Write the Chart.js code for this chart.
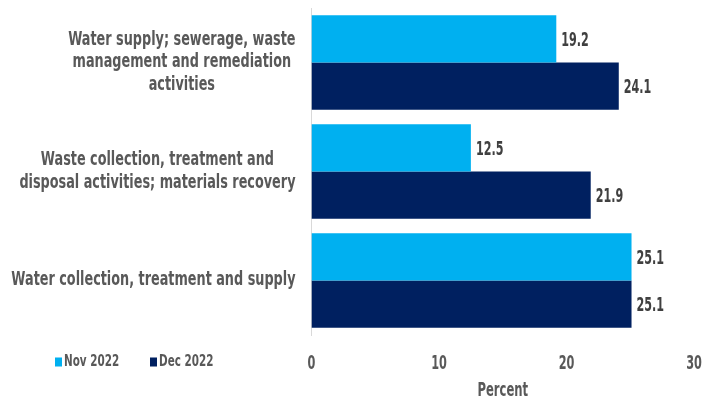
<!DOCTYPE html>
<html>
<head>
<meta charset="utf-8">
<script src="https://cdn.jsdelivr.net/npm/chart.js@4.4.1/dist/chart.umd.min.js"></script>
<style>
  html, body { margin: 0; padding: 0; background: #fff; }
  #wrap { width: 704px; height: 401px; position: relative; }
</style>
</head>
<body>
<div id="wrap"><canvas id="chart"></canvas></div>
<script>
const categories = [
    ['Water supply; sewerage, waste', 'management and remediation', 'activities'],
    ['Waste collection, treatment and', 'disposal activities; materials recovery'],
    ['Water collection, treatment and supply']
];
const seriesNames = ['Nov 2022', 'Dec 2022'];
const nov2022 = [19.2, 12.5, 25.1];
const dec2022 = [24.1, 21.9, 25.1];
const xTicks = [0, 10, 20, 30];
const xTitle = 'Percent';

const FONT = '"DejaVu Sans Condensed", "DejaVu Sans", sans-serif';
const colors = ['#00B0F0', '#002060'];

// condensed text: the original face is narrow, so squeeze horizontally
function drawText(ctx, text, x, y, size, color, align, sx) {
    ctx.save();
    ctx.font = 'bold ' + size + 'px ' + FONT;
    ctx.fillStyle = color;
    ctx.textAlign = align;
    ctx.textBaseline = 'middle';
    ctx.translate(x, y);
    ctx.scale(sx, 1);
    ctx.fillText(text, 0, 0);
    ctx.restore();
}

function textWidth(ctx, text, size, sx) {
    ctx.save();
    ctx.font = 'bold ' + size + 'px ' + FONT;
    const w = ctx.measureText(text).width * sx;
    ctx.restore();
    return w;
}

const categoryLabels = {
    id: 'categoryLabels',
    afterDraw(chart) {
        const ctx = chart.ctx;
        const yScale = chart.scales.y;
        const right = chart.chartArea.left - 16;
        const size = 19, sx = 0.75, lineH = 22.5;
        categories.forEach((lines, i) => {
            const cy = yScale.getPixelForValue(i);
            const w = Math.max(...lines.map(l => textWidth(ctx, l, size, sx)));
            const cx = right - w / 2;
            const y0 = cy - (lines.length - 1) * lineH / 2;
            lines.forEach((l, j) => drawText(ctx, l, cx, y0 + j * lineH, size, '#595959', 'center', sx));
        });
    }
};

const valueLabels = {
    id: 'valueLabels',
    afterDatasetsDraw(chart) {
        const ctx = chart.ctx;
        chart.data.datasets.forEach((ds, di) => {
            chart.getDatasetMeta(di).data.forEach((bar, i) => {
                drawText(ctx, ds.data[i].toFixed(1), bar.x + 5, bar.y + 1.5, 20, '#404040', 'left', 0.62);
            });
        });
    }
};

const xAxisText = {
    id: 'xAxisText',
    afterDraw(chart) {
        const ctx = chart.ctx;
        const xScale = chart.scales.x;
        xTicks.forEach(v => {
            drawText(ctx, String(v), xScale.getPixelForValue(v), 364.5, 19, '#595959', 'center', 0.66);
        });
        const mid = (chart.chartArea.left + chart.chartArea.right) / 2;
        drawText(ctx, xTitle, mid, 391, 19, '#595959', 'center', 0.68);
    }
};

const bottomLegend = {
    id: 'bottomLegend',
    afterDraw(chart) {
        const ctx = chart.ctx;
        const y = 362;
        const xs = [55, 150];
        seriesNames.forEach((name, i) => {
            ctx.fillStyle = colors[i];
            ctx.fillRect(xs[i], y - 4.5, 7, 9);
            drawText(ctx, name, xs[i] + 9, y, 16.5, '#595959', 'left', 0.70);
        });
    }
};

new Chart(document.getElementById('chart').getContext('2d'), {
    type: 'bar',
    data: {
        labels: categories.map(c => c.join(' ')),
        datasets: [
            { label: seriesNames[0], data: nov2022, backgroundColor: colors[0] },
            { label: seriesNames[1], data: dec2022, backgroundColor: colors[1] }
        ]
    },
    options: {
        indexAxis: 'y',
        responsive: true,
        maintainAspectRatio: false,
        animation: false,
        layout: { padding: { top: 8, right: 10, bottom: 0, left: 0 } },
        plugins: {
            legend: { display: false },
            tooltip: { enabled: false }
        },
        datasets: {
            bar: { categoryPercentage: 0.866, barPercentage: 1.0 }
        },
        scales: {
            x: {
                min: 0,
                max: 30,
                afterBuildTicks: scale => { scale.ticks = xTicks.map(v => ({ value: v })); },
                afterFit: scale => {
                    scale.height = 66;
                    scale.paddingLeft = 0;
                    scale.paddingRight = 0;
                },
                grid: { display: false, drawTicks: false },
                border: { display: false },
                ticks: { display: false }
            },
            y: {
                afterFit: scale => { scale.width = 311.5; },
                grid: { display: false, drawTicks: false },
                border: { display: true, color: '#D9D9D9', width: 1 },
                ticks: { display: false }
            }
        }
    },
    plugins: [categoryLabels, valueLabels, xAxisText, bottomLegend]
});
</script>
</body>
</html>
